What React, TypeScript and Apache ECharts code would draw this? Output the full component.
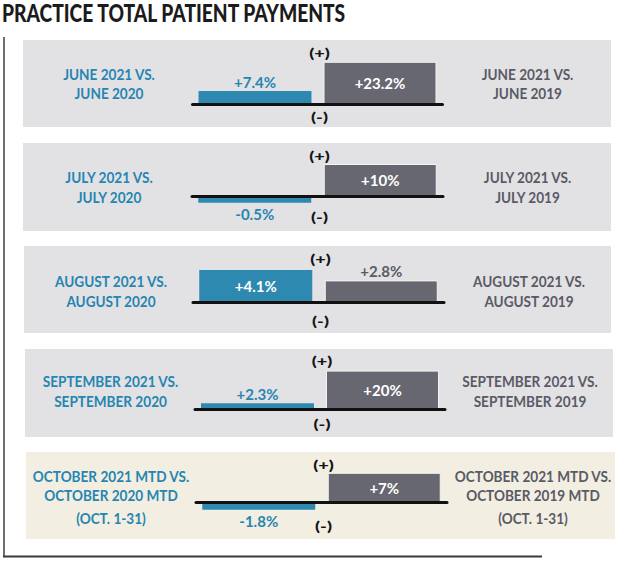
import React, { useEffect, useRef } from 'react';
import * as echarts from 'echarts';

// ---------- data ----------
const title = 'PRACTICE TOTAL PATIENT PAYMENTS';
const categories = ['vs. 2020', 'vs. 2019'];
const leftLabels: string[][] = [
  ['JUNE 2021 VS.', 'JUNE 2020'],
  ['JULY 2021 VS.', 'JULY 2020'],
  ['AUGUST 2021 VS.', 'AUGUST 2020'],
  ['SEPTEMBER 2021 VS.', 'SEPTEMBER 2020'],
  ['OCTOBER 2021 MTD VS.', 'OCTOBER 2020 MTD', '(OCT. 1-31)'],
];
const rightLabels: string[][] = [
  ['JUNE 2021 VS.', 'JUNE 2019'],
  ['JULY 2021 VS.', 'JULY 2019'],
  ['AUGUST 2021 VS.', 'AUGUST 2019'],
  ['SEPTEMBER 2021 VS.', 'SEPTEMBER 2019'],
  ['OCTOBER 2021 MTD VS.', 'OCTOBER 2019 MTD', '(OCT. 1-31)'],
];
const vs2020 = [7.4, -0.5, 4.1, 2.3, -1.8];
const vs2019 = [23.2, 10, 2.8, 20, 7];
const plusMark = '(+)';
const minusMark = '(-)';

// ---------- layout / styles ----------
const BLUE = '#2e89b0';
const GRAY = '#676771';
const LABEL_BLUE = '#2785b1';
const LABEL_GRAY = '#5a5a66';
const FONT = 'Lato, "Open Sans", sans-serif';
const LABEL_SCALE = 0.85;

const panels = [
  { top: 40, bottom: 127, left: 23, right: 611, zeroY: 104.7, k: 1.85, gl: 192.5, gr: 442.5, lx: 109, rx: 527.5, ly: [73.3, 92.7], plusY: 52.7, minusY: 116, fill: '#e2e2e4' },
  { top: 143, bottom: 231, left: 23, right: 611, zeroY: 196.7, k: 3.27, gl: 192, gr: 443, lx: 109, rx: 527.5, ly: [176.7, 196.7], plusY: 155.7, minusY: 216.7, fill: '#e2e2e4' },
  { top: 246, bottom: 333, left: 24, right: 611, zeroY: 302.5, k: 7.9, gl: 193, gr: 444, lx: 111, rx: 529, ly: [281, 300.7], plusY: 258.3, minusY: 320, fill: '#e2e2e4' },
  { top: 349, bottom: 437, left: 25, right: 613, zeroY: 409.2, k: 1.93, gl: 195, gr: 445, lx: 110.5, rx: 530, ly: [380.7, 400.7], plusY: 360.7, minusY: 423.3, fill: '#e2e2e4' },
  { top: 452, bottom: 539, left: 26, right: 615, zeroY: 502.2, k: 4.2, gl: 196, gr: 447, lx: 111, rx: 533, ly: [475.5, 494.5, 517.5], plusY: 464.3, minusY: 525, fill: '#f2efe2' },
];

function fmt(v: number) {
  return (v > 0 ? '+' : '') + v + '%';
}

function barItem(v: number, k: number, color: string, textColor: string, border: boolean) {
  const inside = Math.abs(v) * k > 25;
  return {
    value: v,
    itemStyle: border ? { color, borderColor: '#f4f4f4', borderWidth: 1 } : { color },
    label: inside
      ? { position: 'inside', color: '#ffffff' }
      : { position: v >= 0 ? 'top' : 'bottom', distance: v >= 0 ? 2 : 4, color: textColor },
  };
}

export default function App() {
  const ref = useRef<HTMLDivElement>(null);
  useEffect(() => {
    if (!ref.current) return;
    const chart = echarts.init(ref.current, undefined, { renderer: 'svg' });

    // measure title to compress it into the condensed width of the original
    const ctx = document.createElement('canvas').getContext('2d')!;
    ctx.font = '900 24px Lato';
    const tw = ctx.measureText(title).width || 400;
    const titleScale = 345 / tw;

    const graphics: any[] = [];
    graphics.push({
      type: 'text', x: 2, y: 13, scaleX: titleScale, z: 10,
      style: { text: title, font: '900 24px ' + FONT, fill: '#1b1b1b', align: 'left', verticalAlign: 'middle' },
    });
    graphics.push({ type: 'line', z: 1, shape: { x1: 4, y1: 37, x2: 4, y2: 557 }, style: { stroke: '#6f6f6f', lineWidth: 2 } });
    graphics.push({ type: 'line', z: 1, shape: { x1: 3, y1: 556.5, x2: 542, y2: 556.5 }, style: { stroke: '#3a3a3a', lineWidth: 2 } });

    panels.forEach((p, i) => {
      graphics.push({
        type: 'rect', z: -10,
        shape: { x: p.left, y: p.top, width: p.right - p.left, height: p.bottom - p.top },
        style: { fill: p.fill },
      });
      leftLabels[i].forEach((t, j) => {
        graphics.push({
          type: 'text', x: p.lx, y: p.ly[j], z: 10, scaleX: LABEL_SCALE,
          style: { text: t, font: 'bold 16px ' + FONT, fill: LABEL_BLUE, align: 'center', verticalAlign: 'middle' },
        });
      });
      rightLabels[i].forEach((t, j) => {
        graphics.push({
          type: 'text', x: p.rx, y: p.ly[j], z: 10, scaleX: LABEL_SCALE,
          style: { text: t, font: 'bold 16px ' + FONT, fill: LABEL_GRAY, align: 'center', verticalAlign: 'middle' },
        });
      });
      const cx = (p.gl + p.gr) / 2 + 2;
      graphics.push({
        type: 'text', x: cx, y: p.plusY, z: 10, scaleX: 1.3,
        style: { text: plusMark, font: '900 14px ' + FONT, fill: '#151515', align: 'center', verticalAlign: 'middle' },
      });
      graphics.push({
        type: 'text', x: cx, y: p.minusY, z: 10, scaleX: 1.3,
        style: { text: minusMark, font: '900 14px ' + FONT, fill: '#151515', align: 'center', verticalAlign: 'middle' },
      });
    });

    const option: any = {
      animation: false,
      backgroundColor: '#ffffff',
      graphic: { elements: graphics },
      grid: panels.map((p) => ({
        left: p.gl, width: p.gr - p.gl, top: p.top, height: p.bottom - p.top, containLabel: false,
      })),
      xAxis: panels.map((p, i) => ({
        type: 'category', gridIndex: i, data: categories, z: 5,
        axisLine: { show: true, onZero: true, lineStyle: { color: '#111111', width: 3 } },
        axisTick: { show: false }, axisLabel: { show: false }, splitLine: { show: false },
      })),
      yAxis: panels.map((p, i) => ({
        type: 'value', gridIndex: i,
        max: (p.zeroY - p.top) / p.k,
        min: -(p.bottom - p.zeroY) / p.k,
        axisLine: { show: false }, axisTick: { show: false }, axisLabel: { show: false }, splitLine: { show: false },
      })),
      series: panels.map((p, i) => ({
        type: 'bar', xAxisIndex: i, yAxisIndex: i,
        barWidth: 113, barMinHeight: 6,
        label: {
          show: true, fontFamily: FONT, fontWeight: 'bold', fontSize: 15,
          formatter: (d: any) => fmt(d.value),
        },
        data: [
          barItem(vs2020[i], p.k, BLUE, LABEL_BLUE, false),
          barItem(vs2019[i], p.k, GRAY, LABEL_GRAY, true),
        ],
      })),
    };
    chart.setOption(option);
    return () => chart.dispose();
  }, []);
  return <div ref={ref} style={{ position: 'fixed', left: 0, top: 0, width: 617, height: 561, background: '#fff' }} />;
}
